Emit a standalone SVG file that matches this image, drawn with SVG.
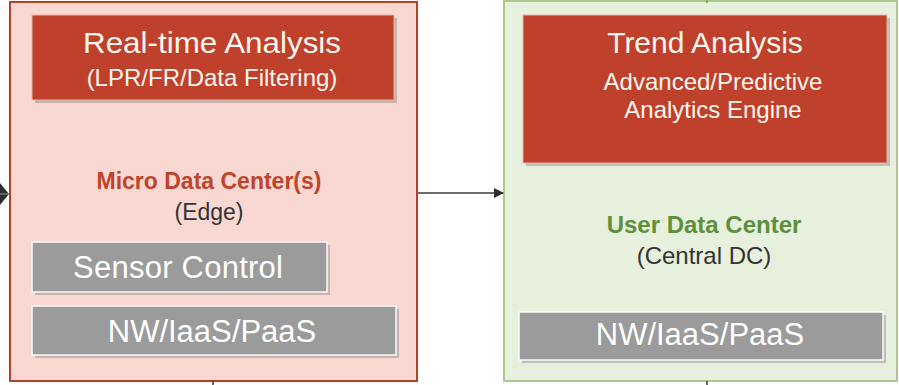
<svg xmlns="http://www.w3.org/2000/svg" width="899" height="385" viewBox="0 0 899 385">
<defs>
<style>
text{font-family:"Liberation Sans",Arial,sans-serif;text-anchor:middle}
.wt{fill:#fdf6ee}
.red{fill:#c0412b;stroke:#e9b3a4;stroke-width:1}
.gray{fill:#9b9b9b;stroke:#fbfbfb;stroke-width:1.5}
.sh{fill:#8a8a8a;opacity:0.45}
.conn{stroke:#3a3a3a;stroke-width:1.5;fill:none}
</style>
<marker id="ah" markerWidth="10" markerHeight="10" refX="9" refY="5" orient="auto" markerUnits="userSpaceOnUse">
<path d="M0,0 L10,5 L0,10 Z" fill="#2e2e2e"/>
</marker>
</defs>
<rect width="899" height="385" fill="#ffffff"/>

<g id="micro-dc">
<rect x="10" y="2" width="407" height="379" fill="#f9d8d2" stroke="#b8402a" stroke-width="2"/>
<text x="209" y="189" font-size="23" font-weight="bold" fill="#c0432c">Micro Data Center(s)</text>
<text x="209" y="220" font-size="23" fill="#333">(Edge)</text>
</g>

<g id="realtime">
<rect class="sh" x="35" y="18" width="362" height="85"/>
<rect class="red" x="32" y="15" width="362" height="85"/>
<text class="wt" x="212" y="53" font-size="30" textLength="258" lengthAdjust="spacingAndGlyphs">Real-time Analysis</text>
<text class="wt" x="212" y="86" font-size="24">(LPR/FR/Data Filtering)</text>
</g>

<g id="sensor-control">
<rect class="sh" x="35" y="245" width="295" height="50"/>
<rect class="gray" x="32" y="242" width="295" height="50"/>
<text x="178" y="278" font-size="31" fill="#ffffff" textLength="210" lengthAdjust="spacing">Sensor Control</text>
</g>

<g id="nw-left">
<rect class="sh" x="35" y="309" width="364" height="49"/>
<rect class="gray" x="32" y="306" width="364" height="49"/>
<text x="212" y="342" font-size="31" fill="#ffffff">NW/IaaS/PaaS</text>
</g>

<g id="user-dc">
<rect x="504" y="1" width="393" height="380" fill="#e7f0dc" stroke="#a9c98d" stroke-width="2"/>
<text x="704" y="233" font-size="24" font-weight="bold" fill="#5e8f3c">User Data Center</text>
<text x="704" y="264" font-size="24" fill="#333">(Central DC)</text>
</g>

<g id="trend">
<rect class="sh" x="526" y="18" width="364" height="148"/>
<rect class="red" x="523" y="15" width="364" height="148"/>
<text class="wt" x="705" y="53" font-size="30">Trend Analysis</text>
<text class="wt" x="713" y="90" font-size="24">Advanced/Predictive</text>
<text class="wt" x="713" y="118" font-size="24">Analytics Engine</text>
</g>

<g id="nw-right">
<rect class="sh" x="522" y="315" width="364" height="48"/>
<rect class="gray" x="519" y="312" width="364" height="48"/>
<text x="700" y="345" font-size="31" fill="#ffffff">NW/IaaS/PaaS</text>
</g>

<g id="connectors">
<line class="conn" x1="418" y1="193" x2="503" y2="193" marker-end="url(#ah)"/>
<polygon points="0,183 9,194 0,205" fill="#2e2e2e"/>
<line x1="0" y1="194" x2="9" y2="194" stroke="#9a9a9a" stroke-width="1"/>
<line class="conn" x1="213" y1="385" x2="213" y2="381"/>
<line class="conn" x1="707" y1="385" x2="707" y2="381"/>
<line x1="707" y1="0" x2="707" y2="3" stroke="#7fb05a" stroke-width="2"/>
</g>
</svg>
